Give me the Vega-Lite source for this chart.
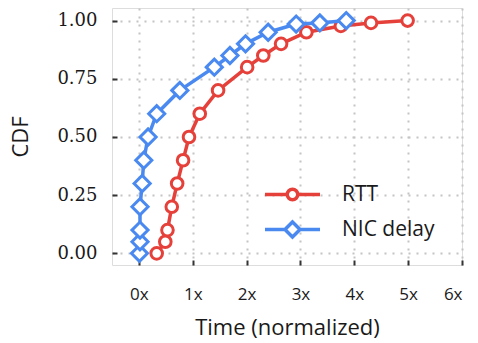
{
  "$schema": "https://vega.github.io/schema/vega-lite/v6.json",
  "autosize": "none",
  "width": 350,
  "height": 257,
  "padding": {"left": 112, "top": 8, "right": 16, "bottom": 78},
  "background": "white",
  "config": {
    "view": {"stroke": "#dddddd", "strokeWidth": 1},
    "axis": {
      "domain": false,
      "grid": true,
      "gridColor": "#c4c4c4",
      "gridDash": [2, 6],
      "gridWidth": 2,
      "tickColor": "#333333",
      "tickWidth": 2,
      "tickSize": -5,
      "labelColor": "#1a1a1a",
      "titleColor": "#1a1a1a",
      "titleFontWeight": "normal"
    },
    "legend": {
      "orient": "none",
      "title": null,
      "padding": 0,
      "rowPadding": 0,
      "symbolSize": 1225,
      "symbolStrokeWidth": 3.5,
      "symbolFillColor": "white",
      "symbolOpacity": 1,
      "labelFont": "Open Sans",
      "labelFontSize": 21,
      "labelColor": "#1a1a1a",
      "labelOffset": 30
    }
  },
  "data": {
    "values": [
      {"series": "RTT", "x": 0.33, "y": 0.0},
      {"series": "RTT", "x": 0.49, "y": 0.05},
      {"series": "RTT", "x": 0.53, "y": 0.1},
      {"series": "RTT", "x": 0.61, "y": 0.2},
      {"series": "RTT", "x": 0.71, "y": 0.3},
      {"series": "RTT", "x": 0.82, "y": 0.4},
      {"series": "RTT", "x": 0.93, "y": 0.5},
      {"series": "RTT", "x": 1.13, "y": 0.6},
      {"series": "RTT", "x": 1.47, "y": 0.7},
      {"series": "RTT", "x": 2.01, "y": 0.8},
      {"series": "RTT", "x": 2.31, "y": 0.85},
      {"series": "RTT", "x": 2.64, "y": 0.9},
      {"series": "RTT", "x": 3.11, "y": 0.95},
      {"series": "RTT", "x": 3.75, "y": 0.977},
      {"series": "RTT", "x": 4.31, "y": 0.99},
      {"series": "RTT", "x": 4.99, "y": 1.0},
      {"series": "NIC delay", "x": 0.01, "y": 0.0},
      {"series": "NIC delay", "x": 0.02, "y": 0.05},
      {"series": "NIC delay", "x": 0.02, "y": 0.1},
      {"series": "NIC delay", "x": 0.02, "y": 0.2},
      {"series": "NIC delay", "x": 0.06, "y": 0.3},
      {"series": "NIC delay", "x": 0.09, "y": 0.4},
      {"series": "NIC delay", "x": 0.17, "y": 0.5},
      {"series": "NIC delay", "x": 0.33, "y": 0.6},
      {"series": "NIC delay", "x": 0.76, "y": 0.7},
      {"series": "NIC delay", "x": 1.4, "y": 0.8},
      {"series": "NIC delay", "x": 1.69, "y": 0.85},
      {"series": "NIC delay", "x": 1.98, "y": 0.9},
      {"series": "NIC delay", "x": 2.4, "y": 0.95},
      {"series": "NIC delay", "x": 2.92, "y": 0.985},
      {"series": "NIC delay", "x": 3.36, "y": 0.99},
      {"series": "NIC delay", "x": 3.85, "y": 1.0}
    ]
  },
  "encoding": {
    "x": {
      "field": "x", "type": "quantitative",
      "scale": {"domain": [-0.5, 6], "nice": false, "zero": false},
      "axis": {
        "values": [0, 1, 2, 3, 4, 5, 6],
        "labelExpr": "datum.value + 'x'",
        "title": "Time (normalized)",
        "labelFont": "Open Sans", "labelFontSize": 17, "labelPadding": 26,
        "titleFont": "Open Sans", "titleFontSize": 22, "titlePadding": 15
      }
    },
    "y": {
      "field": "y", "type": "quantitative",
      "scale": {"domain": [-0.05, 1.054], "nice": false, "zero": false},
      "axis": {
        "values": [0, 0.25, 0.5, 0.75, 1],
        "format": ".2f",
        "title": "CDF",
        "labelFont": "DejaVu Serif, Liberation Serif, serif", "labelFontSize": 18, "labelPadding": 20,
        "titleFont": "Open Sans", "titleFontSize": 22, "titlePadding": 24
      }
    },
    "order": {"field": "y", "type": "quantitative"}
  },
  "layer": [
    {
      "transform": [{"filter": "datum.series === 'RTT'"}],
      "mark": {"type": "line", "strokeWidth": 3.5},
      "encoding": {
        "stroke": {
          "field": "series", "type": "nominal",
          "scale": {"domain": ["RTT"], "range": ["#e5413a"]},
          "legend": {"legendX": 161, "legendY": 167, "symbolType": "M-1.571,0H-0.3M0.3,0H1.571M0.3,0A0.3,0.3 0 1,1 -0.3,0A0.3,0.3 0 1,1 0.3,0Z"}
        }
      }
    },
    {
      "transform": [{"filter": "datum.series === 'RTT'"}],
      "mark": {"type": "point", "shape": "circle", "size": 135, "filled": false, "fill": "white", "fillOpacity": 1, "strokeWidth": 3, "opacity": 1},
      "encoding": {
        "stroke": {
          "field": "series", "type": "nominal",
          "scale": {"domain": ["RTT"], "range": ["#e5413a"]},
          "legend": {"legendX": 161, "legendY": 167, "symbolType": "M-1.571,0H-0.3M0.3,0H1.571M0.3,0A0.3,0.3 0 1,1 -0.3,0A0.3,0.3 0 1,1 0.3,0Z"}
        }
      }
    },
    {
      "transform": [{"filter": "datum.series === 'NIC delay'"}],
      "mark": {"type": "line", "strokeWidth": 3.5},
      "encoding": {
        "color": {
          "field": "series", "type": "nominal",
          "scale": {"domain": ["NIC delay"], "range": ["#4a8af0"]},
          "legend": {"legendX": 161, "legendY": 202, "symbolType": "M-1.571,0H-0.43M0.43,0H1.571M-0.43,0L0,-0.43L0.43,0L0,0.43Z"}
        }
      }
    },
    {
      "transform": [{"filter": "datum.series === 'NIC delay'"}],
      "mark": {"type": "point", "shape": "diamond", "size": 260, "filled": false, "fill": "white", "fillOpacity": 1, "strokeWidth": 3, "opacity": 1},
      "encoding": {
        "color": {
          "field": "series", "type": "nominal",
          "scale": {"domain": ["NIC delay"], "range": ["#4a8af0"]},
          "legend": {"legendX": 161, "legendY": 202, "symbolType": "M-1.571,0H-0.43M0.43,0H1.571M-0.43,0L0,-0.43L0.43,0L0,0.43Z"}
        }
      }
    }
  ]
}
